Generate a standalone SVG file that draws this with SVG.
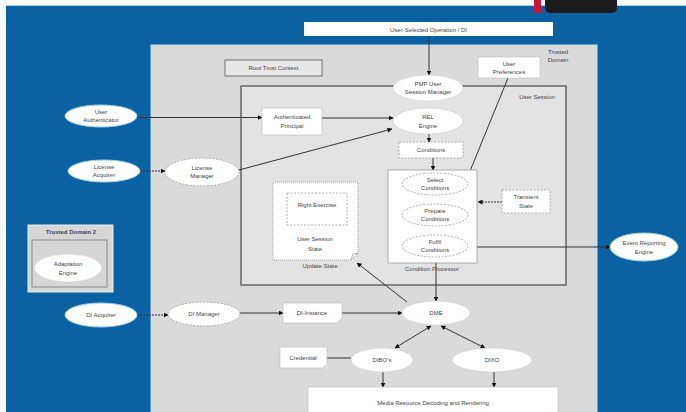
<svg xmlns="http://www.w3.org/2000/svg" width="686" height="412" viewBox="0 0 686 412">
<defs>
<marker id="ah" viewBox="0 0 10 10" refX="9" refY="5" markerWidth="5" markerHeight="5" orient="auto-start-reverse" markerUnits="userSpaceOnUse">
<path d="M0,0 L10,5 L0,10 z" fill="#111"/>
</marker>
<style>
text{font-family:"Liberation Sans",Arial,sans-serif;font-size:6px;fill:#444;text-anchor:middle}
.ln{stroke:#333;stroke-width:1;fill:none}
.box{fill:#fff;stroke:#bbb;stroke-width:0.6}
.dash{fill:#fff;stroke:#999;stroke-width:0.8;stroke-dasharray:2 1.5}
.ell{fill:#fff;stroke:#ccc;stroke-width:0.6}
.ellb{fill:#fff;stroke:#9fd0f0;stroke-width:1}
</style>
</defs>
<rect x="0" y="0" width="686" height="412" fill="#fbfbfb"/>
<rect x="6" y="5" width="680" height="407" fill="#0b62a2"/>
<line x1="6" y1="5.5" x2="686" y2="5.5" stroke="#9cd3ee" stroke-width="1"/>
<rect x="534" y="0" width="7" height="13" fill="#d0103a"/>
<rect x="545" y="-6" width="72" height="19" rx="5" fill="#1c1c1c"/>
<rect x="151" y="45" width="446" height="367" fill="#dadada" stroke="#c6dbe9" stroke-width="1"/>
<rect x="241" y="86" width="325" height="199" fill="#e3e3e3" stroke="#666" stroke-width="1.5"/>

<g id="connectors">
<line class="ln" x1="429" y1="36" x2="429" y2="75" marker-end="url(#ah)"/>
<line class="ln" x1="137" y1="117.5" x2="262" y2="117.5" marker-end="url(#ah)"/>
<line class="ln" x1="322" y1="118" x2="393" y2="118" marker-end="url(#ah)"/>
<line class="ln" x1="140" y1="171" x2="165" y2="171" stroke-dasharray="2 1" marker-end="url(#ah)"/>
<line class="ln" x1="239" y1="170" x2="392" y2="129" marker-end="url(#ah)"/>
<line class="ln" x1="429" y1="134" x2="429" y2="142" marker-end="url(#ah)"/>
<line class="ln" x1="433" y1="158" x2="433" y2="170" marker-end="url(#ah)"/>
<line class="ln" x1="508" y1="78" x2="468" y2="176" marker-end="url(#ah)"/>
<line class="ln" x1="435" y1="195" x2="435" y2="203" marker-end="url(#ah)"/>
<line class="ln" x1="435" y1="227" x2="435" y2="235" marker-end="url(#ah)"/>
<line class="ln" x1="502" y1="202" x2="478" y2="202" stroke-dasharray="2 1" marker-end="url(#ah)"/>
<line class="ln" x1="468" y1="247" x2="610" y2="247" marker-end="url(#ah)"/>
<line class="ln" x1="436" y1="263" x2="436" y2="301" marker-end="url(#ah)"/>
<line class="ln" x1="407" y1="302" x2="357" y2="263" marker-end="url(#ah)"/>
<line class="ln" x1="137" y1="315" x2="168" y2="315" stroke-dasharray="2 1" marker-end="url(#ah)"/>
<line class="ln" x1="240" y1="313" x2="283" y2="313" marker-end="url(#ah)"/>
<line class="ln" x1="342" y1="313" x2="402" y2="313" marker-end="url(#ah)"/>
<line class="ln" x1="431" y1="326" x2="395" y2="348" marker-start="url(#ah)" marker-end="url(#ah)"/>
<line class="ln" x1="441" y1="326" x2="485" y2="348" marker-start="url(#ah)" marker-end="url(#ah)"/>
<line class="ln" x1="327" y1="358" x2="351" y2="358"/>
<line class="ln" x1="383" y1="372" x2="383" y2="387" marker-end="url(#ah)"/>
<line class="ln" x1="494" y1="372" x2="494" y2="387" marker-end="url(#ah)"/>
</g>

<g id="user-selected"><rect x="304" y="22" width="249" height="14" fill="#fff"/><text x="428.5" y="31.5">User-Selected Operation / DI</text></g>
<g id="trusted-domain"><text x="558" y="54">Trusted</text><text x="558" y="62">Domain</text></g>
<g id="root-trust"><rect x="225" y="60" width="97" height="16" fill="#e8e8e8" stroke="#555" stroke-width="0.8"/><text x="273.5" y="70">Root Trust Context</text></g>
<g id="user-session-label"><text x="537" y="99">User Session</text></g>
<g id="user-preferences"><rect x="478" y="57" width="62" height="21" class="box"/><text x="509" y="65.5">User</text><text x="509" y="74">Preferences</text></g>
<g id="pmp"><ellipse cx="428" cy="88" rx="35" ry="13" class="ell"/><text x="428" y="86">PMP User</text><text x="428" y="94">Session Manager</text></g>
<g id="auth-principal"><rect x="262" y="108" width="60" height="27" class="box"/><text x="292" y="119">Authenticated</text><text x="292" y="128">Principal</text></g>
<g id="rel"><ellipse cx="428" cy="121" rx="35" ry="13" class="ell"/><text x="428" y="119">REL</text><text x="428" y="128">Engine</text></g>
<g id="conditions"><rect x="399" y="142" width="64" height="16" class="dash"/><text x="431" y="152">Conditions</text></g>
<g id="condition-processor"><rect x="388" y="170" width="89" height="93" fill="#fff" stroke="#999" stroke-width="0.8"/><text x="432" y="271">Condition Processor</text></g>
<g id="select"><ellipse cx="435" cy="184" rx="33" ry="11" class="dash"/><text x="435" y="182">Select</text><text x="435" y="190">Conditions</text></g>
<g id="prepare"><ellipse cx="435" cy="215" rx="33" ry="11" class="dash"/><text x="435" y="213">Prepare</text><text x="435" y="221">Conditions</text></g>
<g id="fulfil"><ellipse cx="435" cy="246" rx="33" ry="11" class="dash"/><text x="435" y="244">Fulfil</text><text x="435" y="252">Conditions</text></g>
<g id="transient"><rect x="502" y="190" width="48" height="23" class="dash"/><text x="526" y="199">Transient</text><text x="526" y="208">State</text></g>
<g id="session-state"><path d="M273,182 H358 V253 L351,260 H273 Z" fill="#fff" stroke="#888" stroke-width="0.8" stroke-dasharray="1 1"/><path d="M351,260 L353,254 L358,253" fill="none" stroke="#888" stroke-width="0.6"/><rect x="287" y="193" width="60" height="32" class="dash"/><text x="317" y="207">Right Exercise</text><text x="315" y="241">User Session</text><text x="315" y="251">State</text><text x="320" y="268">Update State</text></g>
<g id="user-authenticator"><ellipse cx="101" cy="116" rx="36" ry="11" class="ellb"/><text x="101" y="114">User</text><text x="101" y="122">Authenticator</text></g>
<g id="license-acquirer"><ellipse cx="104" cy="171" rx="36" ry="11" class="ellb"/><text x="104" y="169">License</text><text x="104" y="177">Acquirer</text></g>
<g id="license-manager"><ellipse cx="202" cy="172" rx="37" ry="14" class="dash"/><text x="202" y="170">License</text><text x="202" y="178">Manager</text></g>
<g id="trusted-domain-2"><rect x="28" y="225" width="85" height="67" fill="#d6d6d6" stroke="#eee" stroke-width="1"/><text x="71" y="234" style="font-weight:bold">Trusted Domain 2</text><rect x="32" y="240" width="75" height="47" fill="#d6d6d6" stroke="#777" stroke-width="0.8"/><ellipse cx="68" cy="268" rx="34" ry="14" fill="#fff" stroke="#ccc" stroke-width="0.6"/><text x="68" y="266">Adaptation</text><text x="68" y="275">Engine</text></g>
<g id="di-acquirer"><ellipse cx="101" cy="315" rx="36" ry="12" class="ellb"/><text x="101" y="317">DI Acquirer</text></g>
<g id="di-manager"><ellipse cx="204" cy="314" rx="36" ry="12" class="dash"/><text x="204" y="316">DI Manager</text></g>
<g id="di-instance"><path d="M283,303 H342 V318 L337,323 H283 Z" class="box"/><text x="312" y="315">DI-Instance</text></g>
<g id="dme"><ellipse cx="436" cy="313" rx="34" ry="12" class="ell"/><text x="436" y="315">DME</text></g>
<g id="credential"><path d="M280,347 H327 V364 L323,368 H280 Z" class="box"/><text x="303" y="360">Credential</text></g>
<g id="dibo"><ellipse cx="382" cy="360" rx="31" ry="12" class="ell"/><text x="382" y="362">DIBO's</text></g>
<g id="dixo"><ellipse cx="492" cy="360" rx="40" ry="12" class="ell"/><text x="492" y="362">DIXO</text></g>
<g id="media"><rect x="308" y="387" width="250" height="30" class="box"/><text x="433" y="405">Media Resource Decoding and Rendering</text></g>
<g id="event-reporting"><ellipse cx="644" cy="247" rx="34" ry="14" class="ellb"/><text x="644" y="245">Event Reporting</text><text x="644" y="254">Engine</text></g>
</svg>
